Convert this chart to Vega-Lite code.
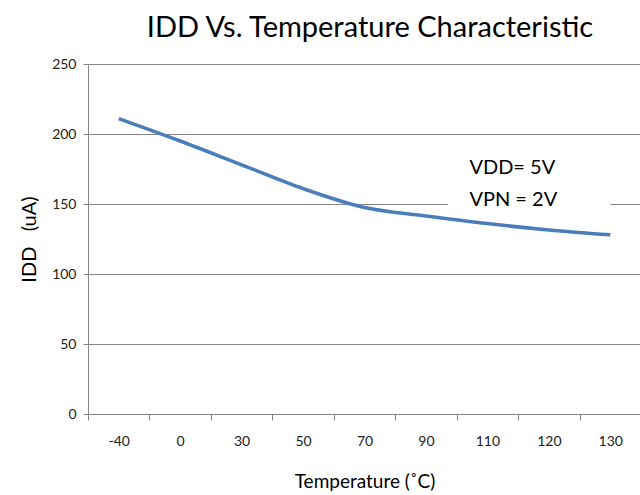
{
  "$schema": "https://vega.github.io/schema/vega-lite/v6.json",
  "width": 538,
  "height": 350,
  "padding": {"left": 19, "top": 14, "right": 0, "bottom": 5},
  "background": "white",
  "config": {
    "view": {"stroke": null},
    "font": "Lato",
    "axis": {"labelFont": "Lato", "titleFont": "Lato"}
  },
  "title": {
    "text": "IDD Vs. Temperature Characteristic",
    "fontSize": 29,
    "font": "Lato",
    "fontWeight": "normal",
    "color": "#000000",
    "anchor": "middle",
    "offset": 14,
    "dx": 13
  },
  "datasets": {
    "curve": [
      {"temp": "-40", "idd": 211},
      {"temp": "0", "idd": 195},
      {"temp": "30", "idd": 178},
      {"temp": "50", "idd": 161},
      {"temp": "70", "idd": 147.5},
      {"temp": "90", "idd": 141.5},
      {"temp": "110", "idd": 136},
      {"temp": "120", "idd": 131.5},
      {"temp": "130", "idd": 128}
    ],
    "notes": [
      {"label": "VDD= 5V", "temp": "110", "idd": 175.5},
      {"label": "VPN = 2V", "temp": "110", "idd": 153}
    ],
    "box": [
      {"from": "90", "to": "130", "low": 141, "high": 192}
    ]
  },
  "layer": [
    {
      "data": {"name": "curve"},
      "mark": {"type": "line", "color": "#4a7ebb", "strokeWidth": 3.5, "interpolate": "monotone"},
      "encoding": {
        "x": {
          "field": "temp",
          "type": "ordinal",
          "sort": null,
          "scale": {"domain": ["-40", "0", "30", "50", "70", "90", "110", "120", "130"], "range": [0, 553], "paddingInner": 0, "paddingOuter": 0},
          "axis": {
            "title": "Temperature (˚C)",
            "titleFontSize": 19,
            "titleFontWeight": "normal",
            "titleColor": "#000000",
            "titlePadding": 24,
            "labelAngle": 0,
            "labelFontSize": 14,
            "labelColor": "#222222",
            "labelPadding": 14,
            "tickBand": "extent",
            "tickSize": 6,
            "tickColor": "#868686",
            "domain": false,
            "grid": false
          }
        },
        "y": {
          "field": "idd",
          "type": "quantitative",
          "scale": {"domain": [0, 250], "nice": false, "zero": true},
          "axis": {
            "title": "IDD\u00a0\u00a0 (uA)",
            "titleFontSize": 20,
            "titleFontWeight": "normal",
            "titleColor": "#000000",
            "titlePadding": 12,
            "values": [0, 50, 100, 150, 200, 250],
            "labelFontSize": 14,
            "labelColor": "#222222",
            "labelPadding": 7,
            "tickSize": 5,
            "tickColor": "#868686",
            "domainColor": "#868686",
            "grid": true,
            "gridColor": "#868686",
            "gridWidth": 1
          }
        }
      }
    },
    {
      "data": {"name": "box"},
      "mark": {"type": "rect", "color": "white"},
      "encoding": {
        "x": {"field": "from", "type": "ordinal", "bandPosition": 0.86},
        "x2": {"field": "to"},
        "y": {"field": "low", "type": "quantitative"},
        "y2": {"field": "high"}
      }
    },
    {
      "data": {"name": "notes"},
      "mark": {"type": "text", "align": "left", "baseline": "middle", "dx": -18, "fontSize": 20, "font": "Lato", "color": "#000000"},
      "encoding": {
        "x": {"field": "temp", "type": "ordinal"},
        "y": {"field": "idd", "type": "quantitative"},
        "text": {"field": "label"}
      }
    }
  ]
}
